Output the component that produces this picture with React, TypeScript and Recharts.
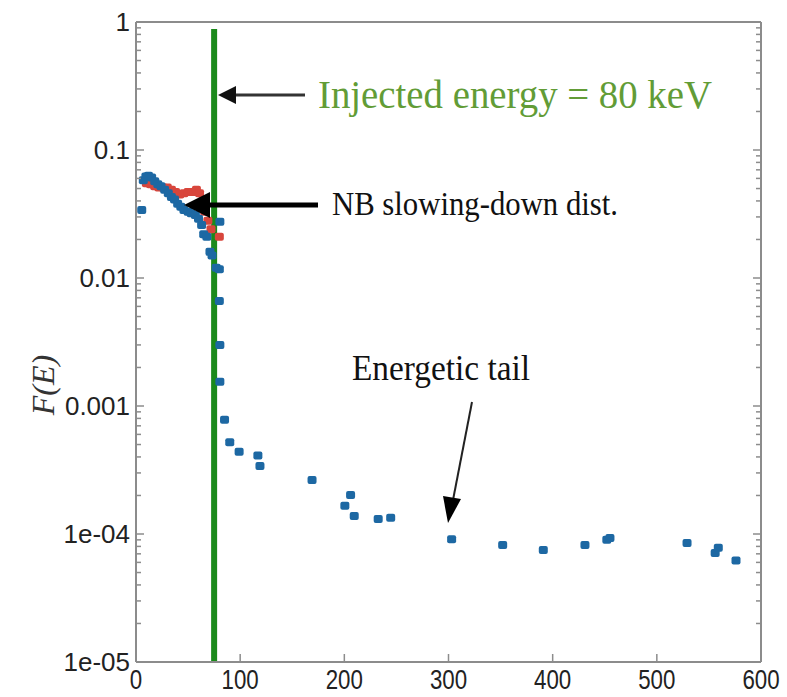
import { ScatterChart, Scatter, XAxis, YAxis, ReferenceLine } from 'recharts'

// energy axis (keV)
const energyTicks = [0, 100, 200, 300, 400, 500, 600]
// F(E) decades and their printed labels
const decadeTicks = [1e-5, 1e-4, 1e-3, 1e-2, 1e-1, 1]
const decadeLabels = ['1e-05', '1e-04', '0.001', '0.01', '0.1', '1']
const minorSteps = [2, 3, 4, 5, 6, 7, 8, 9]

// blue series: energies and F(E)
const blueEnergy = [
  5.5, 7, 9.5, 12, 15, 18, 21, 24, 27.5, 31, 34, 37, 40, 43, 46, 50, 53, 57, 60, 63, 65, 68, 71, 73, 77,
  80.5, 80, 80, 80.5, 80.5, 85, 90, 99, 117, 119,
  169, 200.5, 206, 209.5, 232.5, 244.5, 303, 352, 391, 431, 452, 455, 529, 556, 559, 576,
]
const blueF = [
  0.034, 0.058, 0.062, 0.063, 0.061, 0.057, 0.054, 0.052, 0.049, 0.046, 0.043, 0.041, 0.038, 0.036, 0.034,
  0.033, 0.032, 0.031, 0.029, 0.026, 0.022, 0.021, 0.016, 0.015, 0.012,
  0.0275, 0.0117, 0.0066, 0.003, 0.00155, 0.00078, 0.00052, 0.00044, 0.00041, 0.00034,
  0.000264, 0.000166, 0.000202, 0.000138, 0.000131, 0.000134, 0.000091, 0.000082, 0.000075, 0.000082,
  0.00009, 0.000093, 0.000085, 0.000071, 0.000078, 0.000062,
]

// red series
const redEnergy = [10, 14, 18, 22, 26, 30, 34, 38, 42, 46, 50, 54, 58, 61, 64, 66, 69, 72, 80]
const redF = [
  0.055, 0.054, 0.052, 0.051, 0.051, 0.051, 0.049, 0.047, 0.045, 0.046, 0.047, 0.047, 0.049, 0.046, 0.04,
  0.033, 0.028, 0.024, 0.021,
]

const injectedLine = 75
const injectedTop = 0.88

const blueData = blueEnergy.map((e, i) => ({ e, f: blueF[i] }))
const redData = redEnergy.map((e, i) => ({ e, f: redF[i] }))

const yTicks: number[] = []
decadeTicks.forEach((d, i) => {
  yTicks.push(d)
  if (i < decadeTicks.length - 1) minorSteps.forEach((m) => yTicks.push(m * d))
})

const AXIS = '#8c8c8c'
const SANS = '"Liberation Sans", Arial, sans-serif'
const SERIF = '"Liberation Serif", "Times New Roman", serif'

const Marker = (color: string) => (props: any) => {
  const { cx, cy } = props
  if (cx == null || cy == null) return null
  return <rect x={cx - 4.5} y={cy - 4} width={9} height={8} rx={2} fill={color} />
}

const BottomTick = (props: any) => {
  const { x, y, payload } = props
  const v = payload.value
  const label = String(v)
  return (
    <g>
      {v > 0 && v < 600 && <line x1={x} y1={y} x2={x} y2={y - 8} stroke={AXIS} strokeWidth={1.5} />}
      <text
        x={x}
        y={y + 27}
        textAnchor="middle"
        fontFamily={SANS}
        fontSize={27}
        fill="#222"
        textLength={label.length * 12.4}
        lengthAdjust="spacingAndGlyphs"
      >
        {label}
      </text>
    </g>
  )
}

const TopTick = (props: any) => {
  const { x, y, payload } = props
  const v = payload.value
  if (v <= 0 || v >= 600) return <g />
  return <line x1={x} y1={y} x2={x} y2={y + 8} stroke={AXIS} strokeWidth={1.5} />
}

const LeftTick = (props: any) => {
  const { x, y, payload } = props
  const idx = decadeTicks.indexOf(payload.value)
  const major = idx >= 0
  return (
    <g>
      <line x1={x} y1={y} x2={x + (major ? 8 : 5)} y2={y} stroke={AXIS} strokeWidth={1.5} />
      {major && (
        <text x={x - 6} y={y + 9} textAnchor="end" fontFamily={SANS} fontSize={26} fill="#222">
          {decadeLabels[idx]}
        </text>
      )}
    </g>
  )
}

const RightTick = (props: any) => {
  const { x, y, payload } = props
  const major = decadeTicks.indexOf(payload.value) >= 0
  return <line x1={x} y1={y} x2={x - (major ? 8 : 5)} y2={y} stroke={AXIS} strokeWidth={1.5} />
}

function Annotations() {
  return (
    <svg
      width={787}
      height={697}
      style={{ position: 'absolute', left: 0, top: 0, pointerEvents: 'none' }}
    >
      {/* injected energy */}
      <line x1={305} y1={95} x2={232} y2={95} stroke="#333" strokeWidth={3} />
      <polygon points="218,95 236,86 236,104" fill="#111" />
      <text
        x={318}
        y={108}
        fontFamily={SERIF}
        fontSize={40}
        fill="#629c36"
        textLength={394}
        lengthAdjust="spacingAndGlyphs"
      >
        Injected energy = 80 keV
      </text>

      {/* NB slowing-down */}
      <line x1={318} y1={205} x2={205} y2={205} stroke="#000" strokeWidth={5} />
      <polygon points="184,205 210,192 210,218" fill="#000" />
      <text
        x={332}
        y={215}
        fontFamily={SERIF}
        fontSize={33}
        fill="#111"
        textLength={286}
        lengthAdjust="spacingAndGlyphs"
      >
        NB slowing-down dist.
      </text>

      {/* energetic tail */}
      <text
        x={352}
        y={380}
        fontFamily={SERIF}
        fontSize={36}
        fill="#111"
        textLength={178}
        lengthAdjust="spacingAndGlyphs"
      >
        Energetic tail
      </text>
      <line x1={472} y1={402} x2={453} y2={500} stroke="#222" strokeWidth={2} />
      <polygon points="448,523 443,496 461,499" fill="#000" />

      {/* y axis title */}
      <text
        x={0}
        y={0}
        transform="translate(54,385) rotate(-90)"
        textAnchor="middle"
        fontFamily={SERIF}
        fontStyle="italic"
        fontSize={32}
        fill="#333"
      >
        F(E)
      </text>
    </svg>
  )
}

export default function App() {
  return (
    <div style={{ position: 'absolute', left: 0, top: 0, width: 787, height: 697, background: '#fff' }}>
      <ScatterChart width={787} height={697} margin={{ top: 21, right: 25, bottom: 0, left: 0 }}>
        <XAxis
          xAxisId="b"
          dataKey="e"
          type="number"
          domain={[0, 600]}
          ticks={energyTicks}
          interval={0}
          height={35}
          tickSize={0}
          tickMargin={0}
          tick={BottomTick}
          axisLine={{ stroke: AXIS, strokeWidth: 2 }}
          tickLine={false}
          allowDataOverflow
        />
        <XAxis
          xAxisId="t"
          orientation="top"
          type="number"
          domain={[0, 600]}
          ticks={energyTicks}
          interval={0}
          height={1}
          tickSize={0}
          tickMargin={0}
          tick={TopTick}
          axisLine={{ stroke: AXIS, strokeWidth: 2 }}
          tickLine={false}
          allowDataOverflow
        />
        <YAxis
          yAxisId="l"
          dataKey="f"
          type="number"
          scale="log"
          domain={[1e-5, 1]}
          ticks={yTicks}
          interval={0}
          width={136}
          tickSize={0}
          tickMargin={0}
          tick={LeftTick}
          axisLine={{ stroke: AXIS, strokeWidth: 2 }}
          tickLine={false}
          allowDataOverflow
        />
        <YAxis
          yAxisId="r"
          orientation="right"
          type="number"
          scale="log"
          domain={[1e-5, 1]}
          ticks={yTicks}
          interval={0}
          width={1}
          tickSize={0}
          tickMargin={0}
          tick={RightTick}
          axisLine={{ stroke: AXIS, strokeWidth: 2 }}
          tickLine={false}
          allowDataOverflow
        />
        <Scatter
          xAxisId="b"
          yAxisId="l"
          data={redData}
          fill="#d8463c"
          shape={Marker('#d8463c')}
          isAnimationActive={false}
        />
        <Scatter
          xAxisId="b"
          yAxisId="l"
          data={blueData}
          fill="#1d68a3"
          shape={Marker('#1d68a3')}
          isAnimationActive={false}
        />
        <ReferenceLine xAxisId="b" yAxisId="l" y={1} stroke={AXIS} strokeWidth={2} />
        <ReferenceLine xAxisId="b" yAxisId="l" x={600} stroke={AXIS} strokeWidth={2} />
        <ReferenceLine
          xAxisId="b"
          yAxisId="l"
          segment={[
            { x: injectedLine, y: 1e-5 },
            { x: injectedLine, y: injectedTop },
          ]}
          stroke="#1b8a1b"
          strokeWidth={6}
        />
      </ScatterChart>
      <Annotations />
    </div>
  )
}
